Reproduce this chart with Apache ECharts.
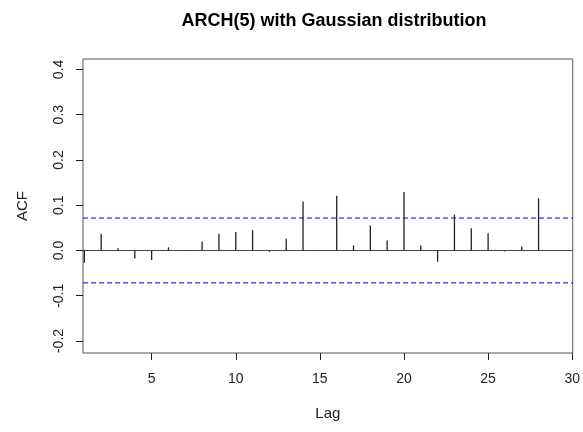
<!DOCTYPE html>
<html><head><meta charset="utf-8">
<script src="https://cdn.jsdelivr.net/npm/echarts@6/dist/echarts.min.js"></script>
<style>html,body{margin:0;padding:0;background:#fff}#c{width:583px;height:432px}</style>
</head><body><div id="c"></div>
<script>
const lags = [1,2,3,4,5,6,7,8,9,10,11,12,13,14,15,16,17,18,19,20,21,22,23,24,25,26,27,28];
const acf = [-0.027,0.037,0.005,-0.018,-0.021,0.007,0.001,0.020,0.037,0.041,0.045,-0.003,0.026,0.108,0.001,0.121,0.011,0.055,0.022,0.129,0.011,-0.025,0.079,0.049,0.038,-0.002,0.009,0.115];
const ciBound = 0.0716;
const xMin = 0.92, xMax = 30.03;
const xTicks = [5,10,15,20,25,30];
const yTicks = [-0.2,-0.1,0.0,0.1,0.2,0.3,0.4];
const yTickLabels = ['-0.2','-0.1','0.0','0.1','0.2','0.3','0.4'];

const chart = echarts.init(document.getElementById('c'), null, {renderer:'canvas'});
const font = 'Liberation Sans, Arial, sans-serif';
function hline(val, color, type){
  return {type:'line', data:[[xMin,val],[xMax,val]], silent:true, showSymbol:false, symbol:'none',
    lineStyle:{color:color, type:type, width:1}, z:1};
}
chart.setOption({
  animation:false,
  backgroundColor:'#fff',
  title:{text:'ARCH(5) with Gaussian distribution', left:329, top:7, textAlign:'center',
    textStyle:{fontFamily:font, fontSize:18, fontWeight:'bold', color:'#000'}},
  grid:{left:83, top:59, right:8, bottom:79, show:true, borderColor:'#555', borderWidth:1, backgroundColor:'transparent'},
  xAxis:{type:'value', min:xMin, max:xMax,
    name:'Lag', nameLocation:'middle', nameGap:53,
    nameTextStyle:{fontFamily:font, fontSize:15, color:'#222'},
    axisLine:{show:false, onZero:false},
    axisTick:{show:true, customValues:xTicks, length:7, inside:false, lineStyle:{color:'#222'}},
    axisLabel:{customValues:xTicks, margin:19, fontFamily:font, fontSize:14, color:'#222'},
    splitLine:{show:false}},
  yAxis:{type:'value', min:-0.2265, max:0.423,
    name:'ACF', nameLocation:'middle', nameGap:53, nameRotate:90,
    nameTextStyle:{fontFamily:font, fontSize:15, color:'#222'},
    axisLine:{show:false, onZero:false},
    axisTick:{show:true, customValues:yTicks, length:7, inside:false, lineStyle:{color:'#222'}},
    axisLabel:{customValues:yTicks, rotate:90, margin:17, fontFamily:font, fontSize:14, color:'#222',
      formatter:function(v){ const i = yTicks.findIndex(t=>Math.abs(t-v)<1e-9); return i>=0?yTickLabels[i]:''; }},
    splitLine:{show:false}},
  series:[
    hline(0, '#444', 'solid'),
    hline(ciBound, '#0000ff', [5,3]),
    hline(-ciBound, '#0000ff', [5,3]),
    {
    type:'custom',
    z:3,
    data:lags.map((l,i)=>[l,acf[i]]),
    renderItem:function(params, api){
      const p0 = api.coord([api.value(0), 0]);
      const p1 = api.coord([api.value(0), api.value(1)]);
      return {type:'line', shape:{x1:p0[0], y1:p0[1], x2:p1[0], y2:p1[1]},
        style:{stroke:'#222', lineWidth:1.3}};
    }
  }]
});
</script></body></html>
